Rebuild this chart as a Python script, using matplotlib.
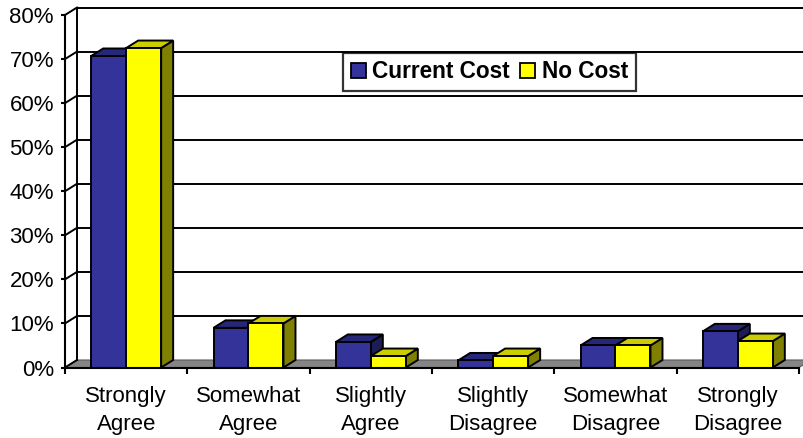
import matplotlib
matplotlib.use("Agg")
import matplotlib.pyplot as plt
from matplotlib.patches import Polygon, Patch

plt.rcParams['font.family'] = ['Liberation Sans', 'DejaVu Sans']

categories = ["Strongly\nAgree", "Somewhat\nAgree", "Slightly\nAgree",
              "Slightly\nDisagree", "Somewhat\nDisagree", "Strongly\nDisagree"]
current_cost = [70.7, 9.0, 5.8, 1.6, 5.0, 8.2]
no_cost = [72.5, 10.0, 2.6, 2.6, 5.0, 6.0]
series_names = ["Current Cost", "No Cost"]
y_ticks = [0, 10, 20, 30, 40, 50, 60, 70, 80]

# face colours: front, top, side
blue = ("#333399", "#27277a", "#1c1c57")
yellow = ("#FFFF00", "#CCCC00", "#808000")

W, H, DPI = 8.04, 4.38, 100
fig = plt.figure(figsize=(W, H), dpi=DPI)
left_px, right_px = 65, 799
bottom_px, top_px = 367.5, 15
ax = fig.add_axes([left_px / 804, (438 - bottom_px) / 438,
                   (right_px - left_px) / 804, (bottom_px - top_px) / 438])
n = len(categories)
ax.set_xlim(-0.5, n - 0.5)
ax.set_ylim(0, 80)

# depth of the 3D box in pixels, converted to data units
depth_x_px, depth_y_px = 12, 7.5
ddx = depth_x_px * n / (right_px - left_px)
ddy = depth_y_px * 80 / (bottom_px - top_px)

lw = 1.4
x_left, x_right = -0.5, n - 0.5

# floor
floor = Polygon([(x_left, 0), (x_right, 0), (x_right + ddx, ddy), (x_left + ddx, ddy)],
                closed=True, facecolor="#858585", edgecolor="#5a5a5a", lw=0.8,
                clip_on=False, zorder=1)
ax.add_patch(floor)

# back wall gridlines and side-wall diagonals
for t in y_ticks[1:]:
    ax.plot([x_left + ddx, x_right + ddx + 1], [t + ddy, t + ddy], color="black",
            lw=lw, clip_on=False, zorder=2, solid_capstyle="butt")
    ax.plot([x_left, x_left + ddx], [t, t + ddy], color="black", lw=lw,
            clip_on=False, zorder=2)
ax.plot([x_left, x_left + ddx], [0, ddy], color="black", lw=lw, clip_on=False, zorder=2)
ax.plot([x_left + ddx, x_left + ddx], [ddy, 80 + ddy], color="black", lw=lw,
        clip_on=False, zorder=2)

# bars
bar_w = 0.286
z = 3
for i in range(n):
    for k, (vals, cols) in enumerate(((current_cost, blue), (no_cost, yellow))):
        v = vals[i]
        x0 = i - bar_w + k * bar_w
        x1 = x0 + bar_w
        side = Polygon([(x1, 0), (x1 + ddx, ddy), (x1 + ddx, v + ddy), (x1, v)],
                       closed=True, facecolor=cols[2], edgecolor="black", lw=lw,
                       zorder=z, clip_on=False, joinstyle="miter")
        top = Polygon([(x0, v), (x1, v), (x1 + ddx, v + ddy), (x0 + ddx, v + ddy)],
                      closed=True, facecolor=cols[1], edgecolor="black", lw=lw,
                      zorder=z, clip_on=False, joinstyle="miter")
        ax.add_patch(side)
        ax.add_patch(top)
        ax.bar([x0], [v], width=bar_w, align="edge", color=cols[0],
               edgecolor="black", lw=lw, zorder=z + 0.5, clip_on=False)
        z += 1

# axes, ticks, labels
for s in ("top", "right"):
    ax.spines[s].set_visible(False)
for s in ("left", "bottom"):
    ax.spines[s].set_linewidth(1.5)
    ax.spines[s].set_zorder(50)
ax.set_yticks(y_ticks)
ax.set_yticklabels([f"{t}%" for t in y_ticks])
ax.tick_params(axis="y", direction="out", length=3, width=1.5, pad=5,
               labelsize=16, colors="black")
ax.set_xticks([x_left + j for j in range(n + 1)])
ax.set_xticklabels([""] * (n + 1))
ax.tick_params(axis="x", which="major", direction="out", length=4, width=1.5)
ax.set_xticks(range(n), minor=True)
ax.set_xticklabels(categories, minor=True, fontsize=16, linespacing=1.42)
ax.tick_params(axis="x", which="minor", length=0, pad=13.5)
ax.set_facecolor("none")

handles = [Patch(facecolor=blue[0], edgecolor="black", lw=1.3),
           Patch(facecolor=yellow[0], edgecolor="black", lw=1.3)]
leg = fig.legend(handles, series_names, loc="center",
                 bbox_to_anchor=(489.5 / 804, 1 - 72 / 438), ncol=2,
                 prop={"weight": "bold", "size": 16.3}, frameon=True, fancybox=False,
                 handlelength=0.65, handleheight=0.65, handletextpad=0.3,
                 columnspacing=0.45, borderpad=0.35, borderaxespad=0)
leg.get_frame().set_edgecolor("black")
leg.get_frame().set_linewidth(1.6)

fig.savefig("out.png", dpi=DPI)
